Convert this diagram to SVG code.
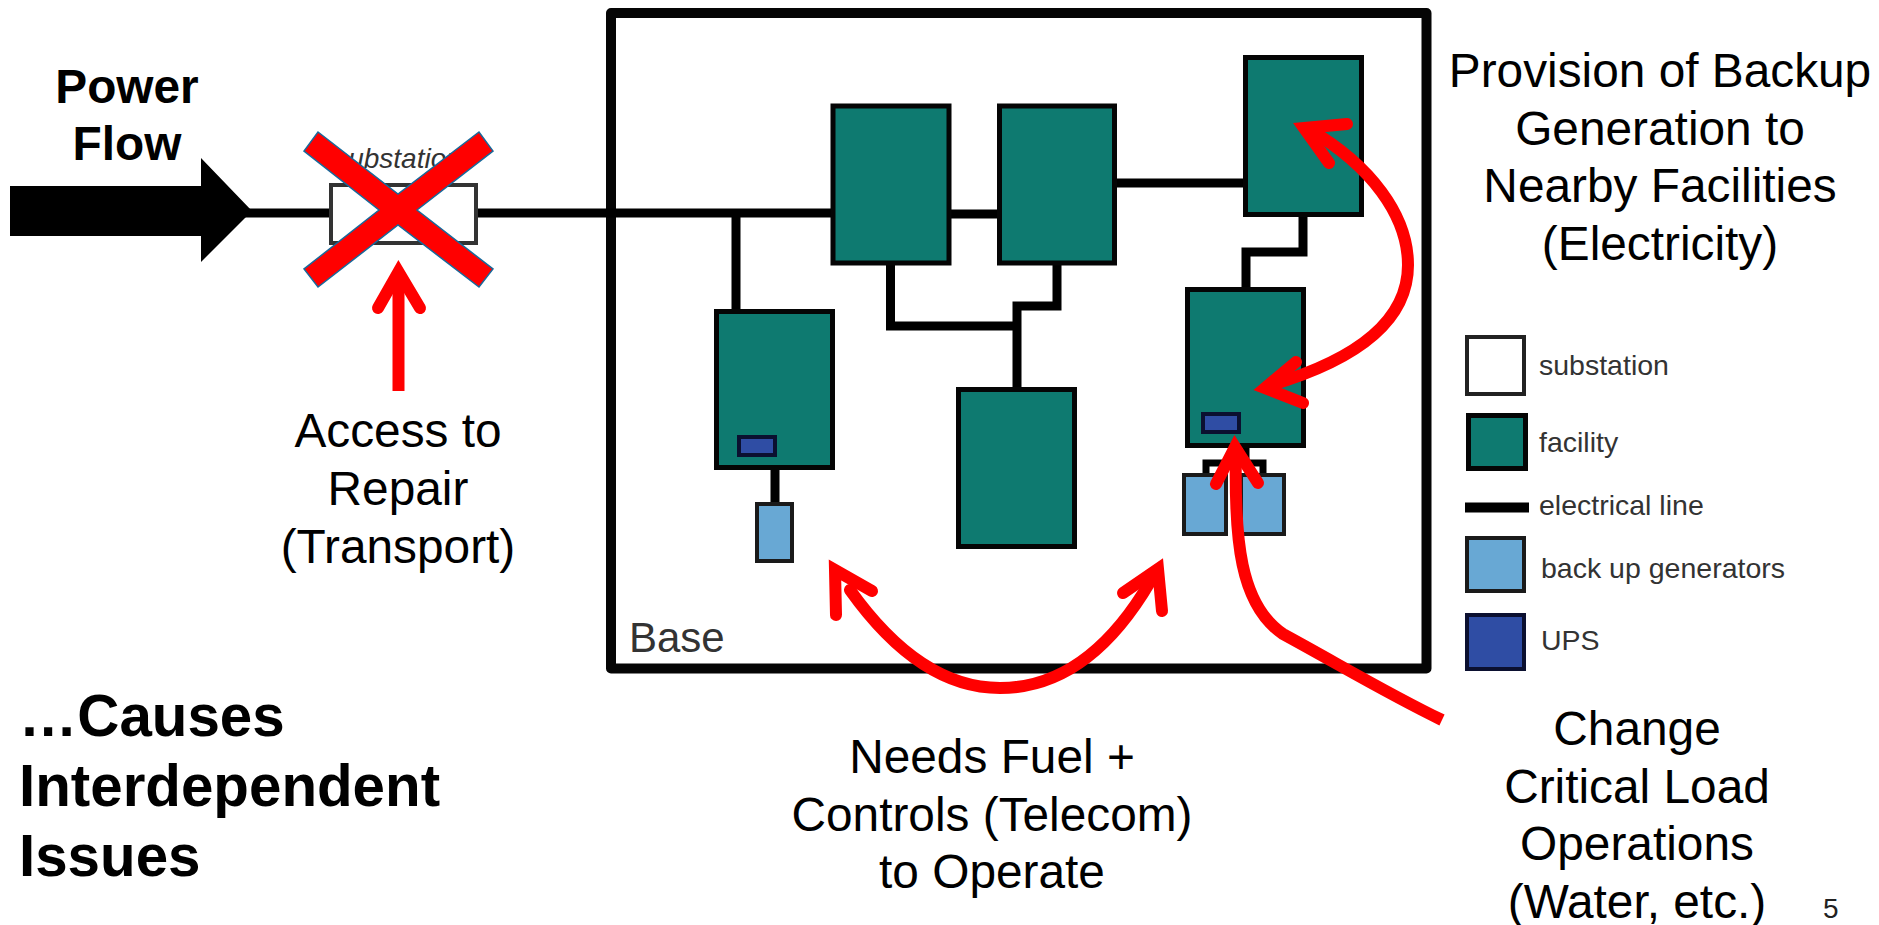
<svg xmlns="http://www.w3.org/2000/svg" width="1879" height="925" viewBox="0 0 1879 925">
<style>
.t{font-family:"Liberation Sans",Arial,sans-serif;font-size:47.8px;fill:#000;text-anchor:middle}
.b{font-family:"Liberation Sans",Arial,sans-serif;font-size:58.3px;font-weight:bold;fill:#000}
.l{font-family:"Liberation Sans",Arial,sans-serif;font-size:28.5px;fill:#333}
.w{fill:none;stroke:#000;stroke-width:9}
.f{fill:#0e7a70;stroke:#050505;stroke-width:5}
.g{fill:#68a8d4;stroke:#1a1a1a;stroke-width:4}
.u{fill:#2f4da4;stroke:#0b1030;stroke-width:4}
.r{fill:none;stroke:#f00;stroke-width:12;stroke-linecap:round;stroke-miterlimit:10}
.s{fill:none;stroke:#f00;stroke-width:12}
</style>
<rect width="1879" height="925" fill="#fff"/>
<g id="base"><rect x="611" y="13" width="815.500" height="655.500" fill="none" stroke="#050505" stroke-width="10" stroke-linejoin="round"/><text x="629" y="652" font-family="Liberation Sans,Arial,sans-serif" font-size="42" fill="#333">Base</text></g>
<g id="connectors">
<path class="w" d="M232 213H330M476 213H833M736 213V312M948 214H1000M1115 183H1246M1246 290V252H1303V214M890.500 262V326H1017M1017 388V306H1057V262M775 467V505"/>
<path class="w" style="stroke-width:7" d="M1206 476V463H1263V476M1246 446V463"/>
</g>
<g id="substation"><text x="398" y="168" font-family="Liberation Sans,Arial,sans-serif" font-size="28" font-style="italic" fill="#333" text-anchor="middle">substation</text><rect x="331" y="185" width="145" height="58" fill="#fff" stroke="#333" stroke-width="4"/></g>
<g id="facility-1"><rect class="f" x="833" y="106" width="116" height="157"/></g>
<g id="facility-2"><rect class="f" x="999.500" y="106" width="115" height="157"/></g>
<g id="facility-3"><rect class="f" x="1245.500" y="57.500" width="116" height="157"/></g>
<g id="facility-4"><rect class="f" x="716.500" y="311.500" width="116" height="156"/><rect class="u" x="739" y="437" width="36" height="18"/></g>
<g id="facility-5"><rect class="f" x="958.500" y="389.500" width="116" height="157"/></g>
<g id="facility-6"><rect class="f" x="1187.500" y="289.500" width="116" height="156"/><rect class="u" x="1203" y="414" width="36" height="18"/></g>
<g id="generator-1"><rect class="g" x="757" y="504" width="35" height="57"/></g>
<g id="generator-2"><rect class="g" x="1184" y="475" width="42" height="59"/></g>
<g id="generator-3"><rect class="g" x="1241" y="475" width="43" height="59"/></g>
<g id="legend">
<rect x="1467" y="337" width="57" height="57" fill="#fff" stroke="#222" stroke-width="4"/>
<rect class="f" x="1468.500" y="415.500" width="57" height="53"/>
<path d="M1465 507.500H1529" stroke="#000" stroke-width="10"/>
<rect class="g" x="1467" y="538" width="57" height="53"/>
<rect class="u" x="1467" y="615" width="57" height="54"/>
<text class="l" x="1539" y="375">substation</text>
<text class="l" x="1539" y="452">facility</text>
<text class="l" x="1539" y="515">electrical line</text>
<text class="l" x="1541" y="578">back up generators</text>
<text class="l" x="1541" y="650">UPS</text>
</g>
<g id="power-arrow"><path d="M10 186H201V158L252 211L201 262V236H10Z" fill="#000"/></g>
<g id="cross"><path d="M318 132L398 194 479 132 493 151 417 210 493 269 479 287 398 225 318 287 304 269 379 210 304 151Z" fill="#f00" stroke="#17699b" stroke-width="1.500"/></g>
<g id="red-arrows">
<path class="s" d="M398.500 391V276"/><path class="r" d="M378 308L398.500 272 420 308"/>
<path class="r" d="M1310 130C1370 165 1408 215 1408 265C1408 330 1340 365 1268 386"/><path class="r" d="M1347 124L1304 128 1329 163"/><path class="r" d="M1296 362L1265 388 1303 403"/>
<path class="r" d="M850 590C900 660 950 688 1000 688C1060 688 1110 650 1150 582"/><path class="r" d="M836 615L835 570 872 591"/><path class="r" d="M1123 593L1158 569 1162 611"/>
<path class="s" d="M1236 450C1234 540 1240 605 1283 634C1340 665 1390 695 1442 720"/><path class="r" d="M1216 484L1235 447 1258 483"/>
</g>
<g id="labels">
<text class="t" style="font-weight:bold" x="127" y="103">Power</text><text class="t" style="font-weight:bold" x="127" y="160">Flow</text>
<text class="t" x="1660" y="87">Provision of Backup</text><text class="t" x="1660" y="145">Generation to</text><text class="t" x="1660" y="202">Nearby Facilities</text><text class="t" x="1660" y="260">(Electricity)</text>
<text class="t" x="398" y="447">Access to</text><text class="t" x="398" y="505">Repair</text><text class="t" x="398" y="563">(Transport)</text>
<text class="t" x="992" y="773">Needs Fuel +</text><text class="t" x="992" y="831">Controls (Telecom)</text><text class="t" x="992" y="888">to Operate</text>
<text class="t" x="1637" y="745">Change</text><text class="t" x="1637" y="803">Critical Load</text><text class="t" x="1637" y="860">Operations</text><text class="t" x="1637" y="918">(Water, etc.)</text>
<text class="b" x="19" y="736">…Causes</text><text class="b" x="19" y="806">Interdependent</text><text class="b" x="19" y="876">Issues</text>
<text x="1823" y="918" font-family="Liberation Sans,Arial,sans-serif" font-size="28" fill="#222">5</text>
</g>
</svg>
